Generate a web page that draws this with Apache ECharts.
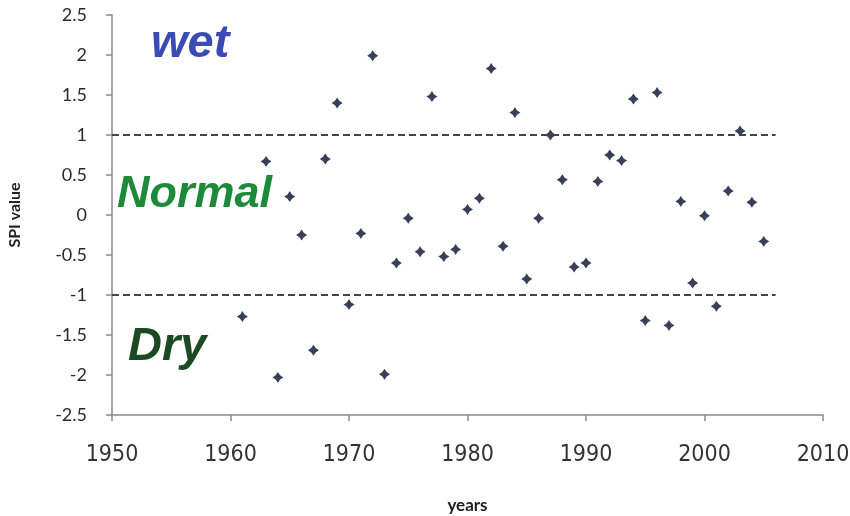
<!DOCTYPE html>
<html>
<head>
<meta charset="utf-8">
<script src="https://cdn.jsdelivr.net/npm/echarts@6/dist/echarts.min.js"></script>
<style>html,body{margin:0;padding:0;background:#fff}#c{width:850px;height:516px}</style>
</head>
<body>
<div id="c"></div>
<script>
const years = [1961,1963,1964,1965,1966,1967,1968,1969,1970,1971,1972,1973,1974,1975,1976,1977,1978,1979,1980,1981,1982,1983,1984,1985,1986,1987,1988,1989,1990,1991,1992,1993,1994,1995,1996,1997,1998,1999,2000,2001,2002,2003,2004,2005];
const spi = [-1.27,0.67,-2.03,0.23,-0.25,-1.69,0.70,1.40,-1.12,-0.23,1.99,-1.99,-0.60,-0.04,-0.46,1.48,-0.52,-0.43,0.07,0.21,1.83,-0.39,1.28,-0.80,-0.04,1.00,0.44,-0.65,-0.60,0.42,0.75,0.68,1.45,-1.32,1.53,-1.38,0.17,-0.85,-0.01,-1.14,0.30,1.05,0.16,-0.33];
const thresholds = [1, -1];
const thresholdSpan = [1950, 2006];
const classLabels = ['wet', 'Normal', 'Dry'];

const chart = echarts.init(document.getElementById('c'));
const pts = years.map((y, i) => [y, spi[i]]);
const star = 'path://M0,-10 L4,-4 L10,0 L4,4 L0,10 L-4,4 L-10,0 L-4,-4 Z';
const font = 'Lato, "Open Sans", sans-serif';
const narrow = '"Liberation Sans Narrow", "DejaVu Sans Condensed", sans-serif';
const bigFont = 'Arial, "Liberation Sans", sans-serif';
chart.setOption({
  animation: false,
  grid: {left: 112, right: 27, top: 15, bottom: 101, containLabel: false, outerBoundsMode: 'none'},
  xAxis: {
    type: 'value', min: 1950, max: 2010, interval: 10,
    name: 'years', nameLocation: 'middle', nameGap: 82,
    nameTextStyle: {fontFamily: font, fontWeight: 'bold', fontSize: 17, color: '#222'},
    axisLine: {onZero: false, lineStyle: {color: '#8a8a8a', width: 1.5}},
    axisTick: {show: true, length: 6, lineStyle: {color: '#8a8a8a', width: 1.5}},
    axisLabel: {fontFamily: narrow, fontSize: 23, color: '#333', margin: 29, formatter: v => String(v)},
    splitLine: {show: false}
  },
  yAxis: {
    type: 'value', min: -2.5, max: 2.5, interval: 0.5,
    name: 'SPI value', nameLocation: 'middle', nameGap: 89,
    nameTextStyle: {fontFamily: font, fontWeight: 'bold', fontSize: 16, color: '#222'},
    axisLine: {show: true, lineStyle: {color: '#8a8a8a', width: 1.5}},
    axisTick: {show: true, length: 6, lineStyle: {color: '#8a8a8a', width: 1.5}},
    axisLabel: {fontFamily: font, fontSize: 18, color: '#2a2a2a', margin: 25, padding: [6, 0, 0, 0]},
    splitLine: {show: false}
  },
  series: [{
    type: 'scatter',
    data: pts,
    symbol: star,
    symbolSize: 11,
    itemStyle: {color: '#061030'},
    markLine: {
      silent: true, symbol: 'none', label: {show: false},
      lineStyle: {type: [7, 4], color: '#444', width: 2},
      data: thresholds.map(t => [{coord: [thresholdSpan[0], t]}, {coord: [thresholdSpan[1], t]}])
    }
  }],
  graphic: [
    {type: 'text', left: 151, top: 21, style: {text: classLabels[0], fontFamily: bigFont, fontWeight: 'bold', fontStyle: 'italic', fontSize: 47, fill: '#3a4bb5'}},
    {type: 'text', left: 117, top: 172, style: {text: classLabels[1], fontFamily: bigFont, fontWeight: 'bold', fontStyle: 'italic', fontSize: 45, fill: '#1c8a38'}},
    {type: 'text', left: 128, top: 324, style: {text: classLabels[2], fontFamily: bigFont, fontWeight: 'bold', fontStyle: 'italic', fontSize: 47, fill: '#1b4a22'}}
  ]
});
</script>
</body>
</html>
